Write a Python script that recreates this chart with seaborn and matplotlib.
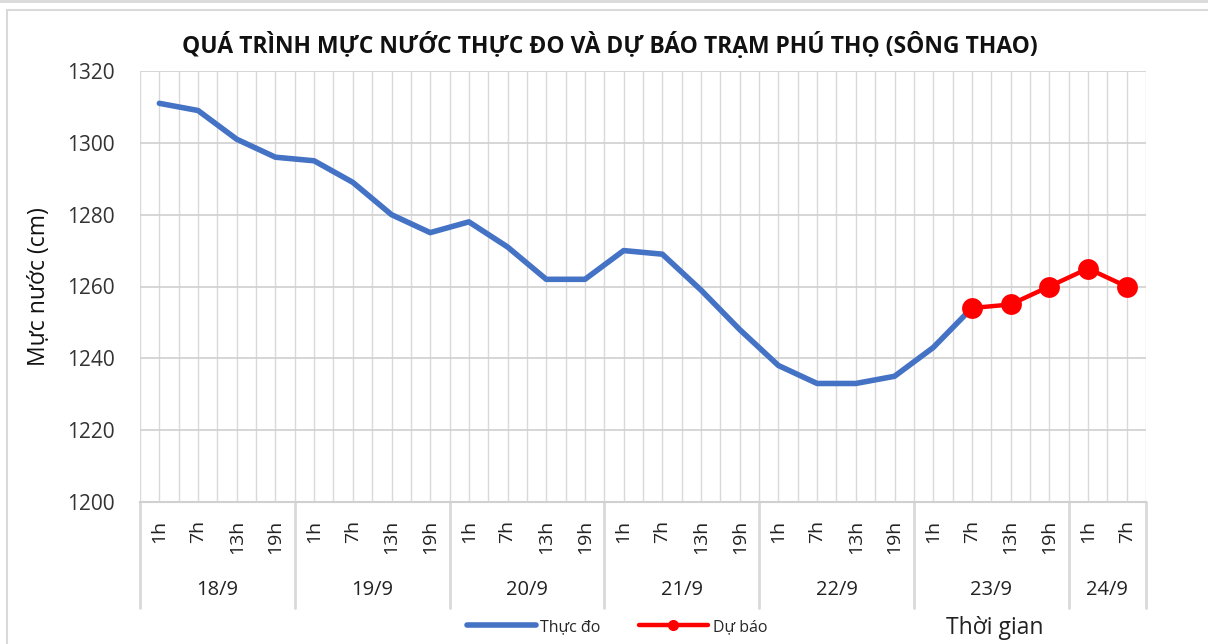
import numpy as np
import pandas as pd
import seaborn as sns
import matplotlib.pyplot as plt
from matplotlib.lines import Line2D

# Data
days = ["18/9", "19/9", "20/9", "21/9", "22/9", "23/9", "24/9"]
hours_per_day = [4, 4, 4, 4, 4, 4, 2]
hour_names = ["1h", "7h", "13h", "19h"]
observed = [1311, 1309, 1301, 1296, 1295, 1289, 1280, 1275, 1278, 1271, 1262, 1262,
            1270, 1269, 1259, 1248, 1238, 1233, 1233, 1235, 1243, 1254]
forecast = [1254, 1255, 1260, 1265, 1260]
forecast_start = 21

hour_labels = []
for n in hours_per_day:
    hour_labels += hour_names[:n]
n_pts = len(hour_labels)

df_obs = pd.DataFrame({"x": np.arange(len(observed)), "level": observed})
df_fc = pd.DataFrame({"x": np.arange(forecast_start, forecast_start + len(forecast)), "level": forecast})

sns.set_style("white")
plt.rcParams["font.family"] = ["Open Sans", "DejaVu Sans"]

W, H = 1208, 644
fig = plt.figure(figsize=(W / 100, H / 100), dpi=100)
ax = fig.add_axes([140 / W, (H - 502) / H, (1146 - 140) / W, 431 / H])

sns.lineplot(data=df_obs, x="x", y="level", ax=ax, color="#4472C4", lw=4, label="Thực đo")
sns.lineplot(data=df_fc, x="x", y="level", ax=ax, color="#FF0000", lw=3.2,
             marker="o", markersize=15, markeredgewidth=0, label="Dự báo")

ax.set_xlim(-0.5, n_pts - 0.5)
ax.set_ylim(1200, 1320)
ax.set_yticks(np.arange(1200, 1321, 20))
ax.set_xticks(np.arange(n_pts))
ax.set_xticks(np.arange(-0.5, n_pts, 1), minor=True)
ax.set_xticklabels(hour_labels, rotation=90, fontsize=14, color="#222222")
ax.tick_params(axis="x", which="both", length=0, pad=13)
ax.tick_params(axis="y", length=0, labelsize=15, labelcolor="#333333", pad=18)
for lbl in ax.get_xticklabels():
    lbl.set_verticalalignment("top")
ax.grid(True, which="both", axis="x", color="#d9d9d9", lw=1)
ax.grid(True, which="major", axis="y", color="#d0d0d0", lw=1.2)
for s in ["top", "right", "left"]:
    ax.spines[s].set_visible(False)
ax.spines["bottom"].set_color("#d0d0d0")
ax.spines["bottom"].set_linewidth(1.5)
ax.set_xlabel("")
ax.set_ylabel("Mực nước (cm)", fontsize=16.5, color="#111111", labelpad=12)
ax.legend_.remove()

# Multi-level day axis
ax_h = 431
sep_bottom = -(608 - 502) / ax_h
start = -0.5
ax.plot([start, start], [0, sep_bottom], transform=ax.get_xaxis_transform(),
        color="#d9d9d9", lw=2, clip_on=False)
for day, n in zip(days, hours_per_day):
    end = start + n
    ax.plot([end, end], [0, sep_bottom], transform=ax.get_xaxis_transform(),
            color="#d9d9d9", lw=2, clip_on=False)
    ax.text((start + end) / 2, -(590 - 502) / ax_h, day, transform=ax.get_xaxis_transform(),
            ha="center", va="center", fontsize=14.5, color="#222222")
    start = end

fig.text(610 / W, 1 - 45 / H, "QUÁ TRÌNH MỰC NƯỚC THỰC ĐO VÀ DỰ BÁO TRẠM PHÚ THỌ (SÔNG THAO)",
         ha="center", va="center", fontsize=16.5, fontweight="bold", color="#111111")
fig.text(995 / W, 1 - 628 / H, "Thời gian", ha="center", va="center", fontsize=16.5, color="#222222")

handles = [Line2D([], [], color="#4472C4", lw=4),
           Line2D([], [], color="#FF0000", lw=3.2, marker="o", markersize=7)]
fig.legend(handles, ["Thực đo", "Dự báo"], loc="center", bbox_to_anchor=(617 / W, 1 - 627 / H),
           ncol=2, frameon=False, fontsize=11.5, handlelength=4.3, handletextpad=0.3, columnspacing=2.4)

# chart border
fig.add_artist(Line2D([0, 1], [1 - 1 / H, 1 - 1 / H], color="#d9d9d9", lw=2))
fig.add_artist(Line2D([7 / W, 1], [1 - 9.5 / H, 1 - 9.5 / H], color="#d9d9d9", lw=1.5))
fig.add_artist(Line2D([7 / W, 7 / W], [0, 1 - 9.5 / H], color="#d9d9d9", lw=1.5))

fig.savefig("out.png", dpi=100)
